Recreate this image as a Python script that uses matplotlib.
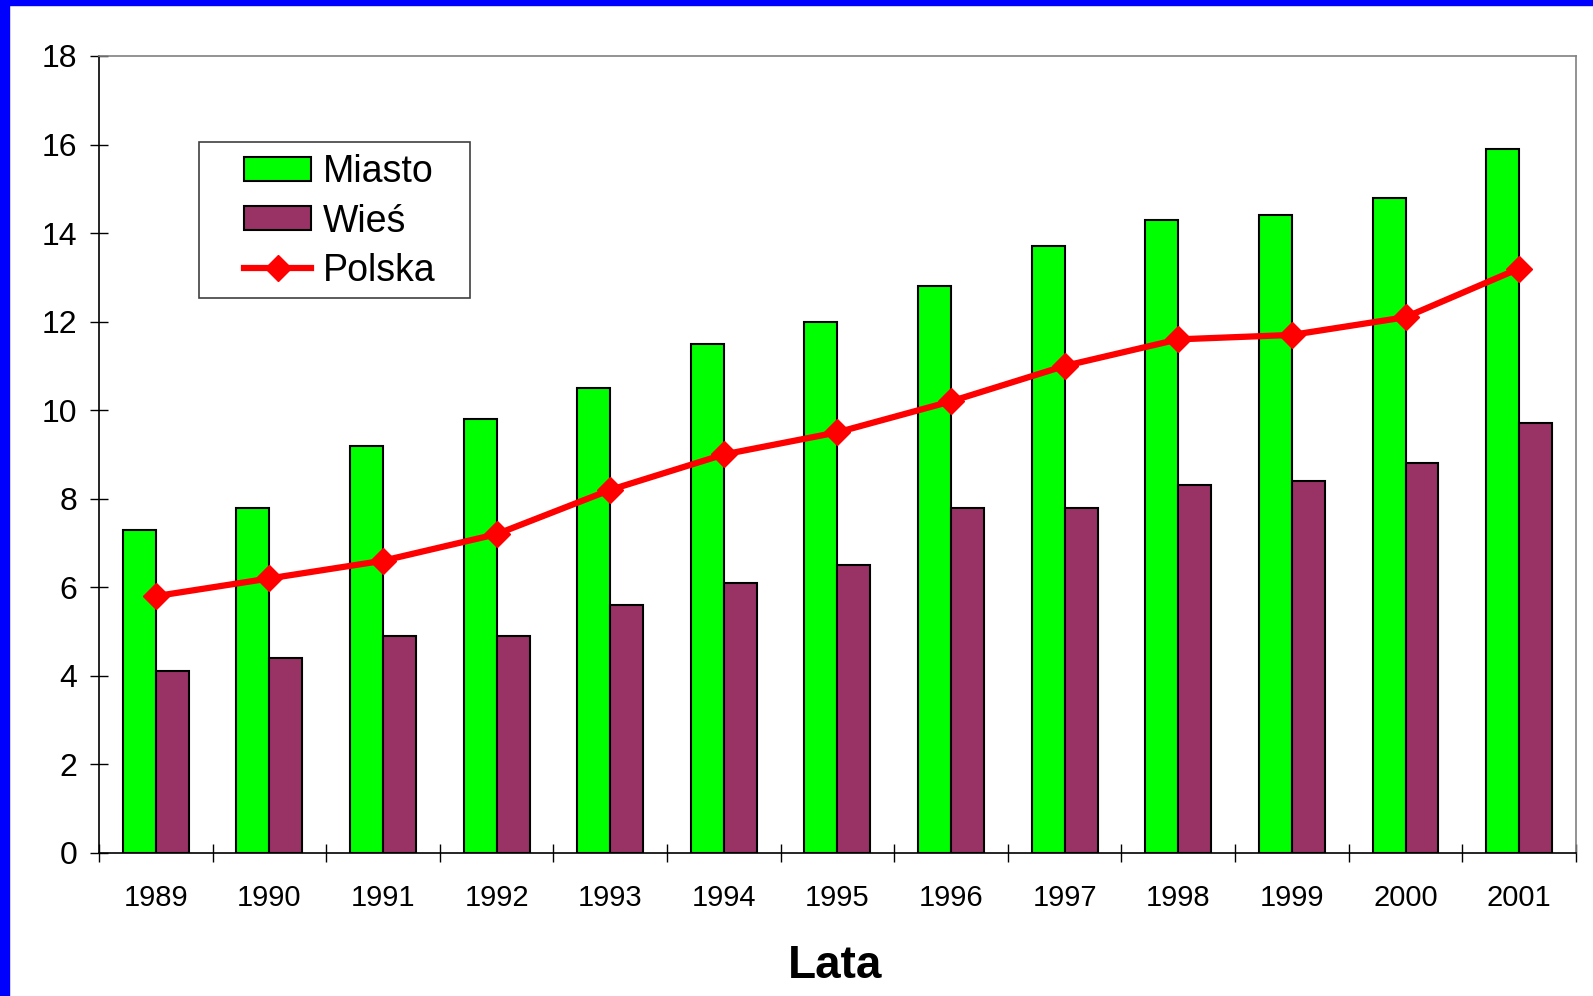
import matplotlib.pyplot as plt
from matplotlib.patches import Rectangle
import numpy as np

plt.rcParams['font.family'] = ['Liberation Sans', 'DejaVu Sans']

# dane
lata = ["1989", "1990", "1991", "1992", "1993", "1994", "1995",
        "1996", "1997", "1998", "1999", "2000", "2001"]
miasto = [7.3, 7.8, 9.2, 9.8, 10.5, 11.5, 12.0, 12.8, 13.7, 14.3, 14.4, 14.8, 15.9]
wies = [4.1, 4.4, 4.9, 4.9, 5.6, 6.1, 6.5, 7.8, 7.8, 8.3, 8.4, 8.8, 9.7]
polska = [5.8, 6.2, 6.6, 7.2, 8.2, 9.0, 9.5, 10.2, 11.0, 11.6, 11.7, 12.1, 13.2]

fig = plt.figure(figsize=(15.93, 9.96), dpi=100)
ax = fig.add_axes([0.0621, 0.1436, 0.9272, 0.8002])

x = np.arange(len(lata))
w = 0.29
b1 = ax.bar(x - w / 2, miasto, w, color='#00FF00', edgecolor='black', linewidth=1.5, label='Miasto', zorder=2)
b2 = ax.bar(x + w / 2, wies, w, color='#993366', edgecolor='black', linewidth=1.5, label='Wieś', zorder=2)
l1, = ax.plot(x, polska, color='#FF0000', linewidth=4.5, marker='D', markersize=13, label='Polska', zorder=3)

ax.set_xlim(-0.5, len(lata) - 0.5)
ax.set_ylim(0, 18)
ax.set_yticks(range(0, 19, 2))
ax.tick_params(axis='y', direction='inout', length=13, width=1, labelsize=23, pad=9)

ax.set_xticks(x)
ax.set_xticklabels(lata)
ax.set_xticks(np.arange(-0.5, len(lata), 1), minor=True)
ax.tick_params(axis='x', which='major', length=0, labelsize=21, pad=22)
ax.tick_params(axis='x', which='minor', direction='inout', length=13, width=1)

for s in ['top', 'right']:
    ax.spines[s].set_color('#808080')
for s in ['left', 'bottom']:
    ax.spines[s].set_color('black')
for s in ax.spines.values():
    s.set_linewidth(1.2)

# legenda - ramka rysowana osobno
ax.add_patch(Rectangle((0.0677, 0.6964), 0.1835, 0.1957, transform=ax.transAxes,
                       facecolor='white', edgecolor='#404040', linewidth=1.2, zorder=4))
leg = ax.legend([b1, b2, l1], ['Miasto', 'Wieś', 'Polska'], loc='upper left',
                bbox_to_anchor=(0.0982, 0.877), fontsize=27, frameon=False,
                handlelength=1.8, handleheight=0.6, borderpad=0, borderaxespad=0,
                labelspacing=0.36, handletextpad=0.3)
leg.set_zorder(5)

fig.text(0.524, 0.030, "Lata", ha='center', va='center', fontsize=33, fontweight='bold')

# niebieska ramka
fig.patches.append(Rectangle((0, 0), 9 / 1593, 1, transform=fig.transFigure, color='#0000FF', zorder=5))
fig.patches.append(Rectangle((0, 1 - 5 / 996), 1, 5 / 996, transform=fig.transFigure, color='#0000FF', zorder=5))

fig.savefig("out.png", dpi=100)
